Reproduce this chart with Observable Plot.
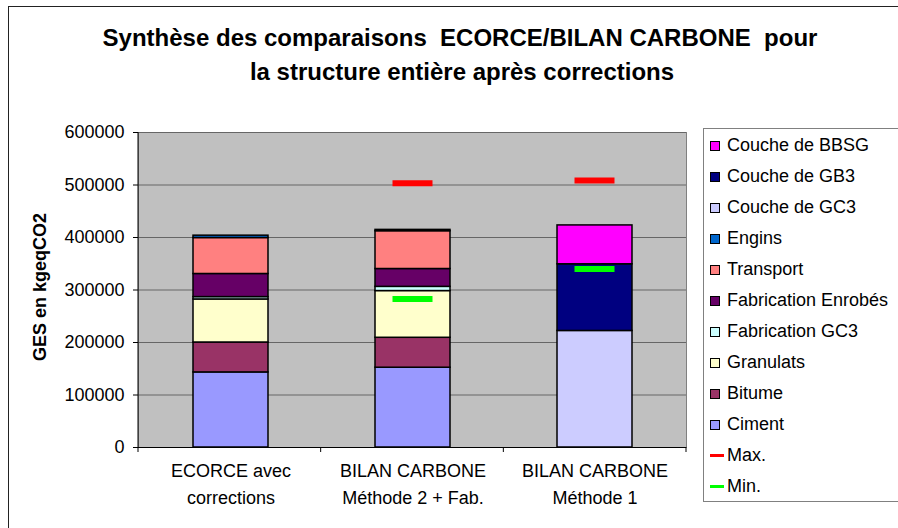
<!DOCTYPE html>
<html>
<head>
<meta charset="utf-8">
<script src="https://cdn.jsdelivr.net/npm/d3@7"></script>
<script src="https://cdn.jsdelivr.net/npm/@observablehq/plot@0.6"></script>
<style>
  html, body { margin: 0; padding: 0; background: #fff; }
  body { font-family: Arial, "Liberation Sans", sans-serif; }
  #wrap { position: relative; width: 898px; height: 528px; overflow: hidden; }
  #border { position: absolute; left: 8px; top: 6px; width: 1000px; height: 1000px; border: 1px solid #222; box-sizing: border-box; }
  #chart { position: absolute; left: 0; top: 0; }
  .title { position: absolute; font-weight: bold; font-size: 24px; white-space: pre; color: #000; line-height: 1; }
  #legend { position: absolute; left: 703px; top: 128px; width: 240px; height: 374px; border: 1px solid #808080; box-sizing: border-box; background: #fff; padding-top: 1px; }
  .item { height: 31px; line-height: 31px; font-size: 18px; white-space: nowrap; position: relative; padding-left: 23px; color: #000; }
  .sw { position: absolute; left: 6px; top: 11px; width: 10px; height: 10px; border: 1px solid #000; box-sizing: border-box; }
  .ln { position: absolute; left: 6px; top: 14px; width: 14px; height: 3px; }
</style>
</head>
<body>
<div id="wrap">
  <div id="border"></div>
  <div id="chart"></div>
  <div class="title" id="t1"></div>
  <div class="title" id="t2"></div>
  <div id="legend"></div>
</div>
<script>
const titleLines = ["Synthèse des comparaisons  ECORCE/BILAN CARBONE  pour", "la structure entière après corrections"];
const yLabel = "GES en kgeqCO2";
const categories = ["ECORCE avec\ncorrections", "BILAN CARBONE\nMéthode 2 + Fab.", "BILAN CARBONE\nMéthode 1"];
const seriesNames = ["Ciment", "Bitume", "Granulats", "Fabrication GC3", "Fabrication Enrobés", "Transport", "Engins", "Couche de GC3", "Couche de GB3", "Couche de BBSG"];
const seriesColors = ["#9999ff", "#993366", "#ffffcc", "#ccffff", "#660066", "#ff8080", "#0066cc", "#ccccff", "#000080", "#ff00ff"];
const ciment = [143000, 152000, 0];
const bitume = [57000, 57000, 0];
const granulats = [82000, 89000, 0];
const fabricationGC3 = [4500, 8000, 0];
const fabricationEnrobes = [44000, 34000, 0];
const transport = [68500, 72000, 0];
const engins = [4500, 2500, 0];
const coucheGC3 = [0, 0, 222000];
const coucheGB3 = [0, 0, 127000];
const coucheBBSG = [0, 0, 74000];
const maxValues = [null, 503500, 508500];
const minValues = [null, 283000, 340000];
const markerNames = ["Max.", "Min."];
const markerColors = ["#ff0000", "#00ff00"];
const yTicks = [0, 100000, 200000, 300000, 400000, 500000, 600000];
const legendOrder = ["Couche de BBSG", "Couche de GB3", "Couche de GC3", "Engins", "Transport", "Fabrication Enrobés", "Fabrication GC3", "Granulats", "Bitume", "Ciment"];

const seriesValues = [ciment, bitume, granulats, fabricationGC3, fabricationEnrobes, transport, engins, coucheGC3, coucheGB3, coucheBBSG];
const rows = [];
seriesNames.forEach((s, k) => {
  categories.forEach((c, i) => {
    const v = seriesValues[k][i];
    if (v > 0) rows.push({category: c, series: s, value: v});
  });
});
const maxRows = categories.map((c, i) => ({category: c, value: maxValues[i]})).filter(d => d.value != null);
const minRows = categories.map((c, i) => ({category: c, value: minValues[i]})).filter(d => d.value != null);

function decor(index, scales, values, dimensions) {
  const {width, height, marginLeft, marginRight, marginTop, marginBottom} = dimensions;
  const x0 = marginLeft, x1 = width - marginRight, yb = height - marginBottom;
  const g = d3.create("svg:g");
  g.append("line").attr("x1", x0).attr("x2", x0).attr("y1", marginTop).attr("y2", yb).attr("stroke", "#000");
  const n = categories.length;
  for (let i = 0; i <= n; i++) {
    const x = x0 + i * (x1 - x0) / n;
    g.append("line").attr("x1", x).attr("x2", x).attr("y1", yb).attr("y2", yb + 5).attr("stroke", "#000");
  }
  return g.node();
}

const plot = Plot.plot({
  width: 898,
  height: 528,
  marginLeft: 138,
  marginRight: 212,
  marginTop: 132,
  marginBottom: 81,
  style: {fontFamily: 'Arial, "Liberation Sans", sans-serif', fontSize: "18px", background: "transparent", color: "#000"},
  x: {domain: categories, paddingInner: 0.59, paddingOuter: 0.295, label: null},
  y: {domain: [0, 600000], label: null},
  color: {domain: seriesNames, range: seriesColors},
  marks: [
    Plot.frame({fill: "#c0c0c0", stroke: "#808080"}),
    Plot.gridY({ticks: yTicks, stroke: "#666", strokeOpacity: 1}),
    Plot.barY(rows, {x: "category", y: "value", fill: "series", stroke: "#000", strokeWidth: 1.5, order: seriesNames}),
    Plot.tickY(maxRows, {x: "category", y: "value", stroke: markerColors[0], strokeWidth: 6, insetLeft: 17.5, insetRight: 17.5}),
    Plot.tickY(minRows, {x: "category", y: "value", stroke: markerColors[1], strokeWidth: 6, insetLeft: 17.5, insetRight: 17.5}),
    decor,
    Plot.ruleY([0], {stroke: "#000"}),
    Plot.axisY({ticks: yTicks, tickFormat: d => String(d), tickSize: 5, tickPadding: 9, label: null}),
    Plot.axisX({tickSize: 0, tickPadding: 10, lineHeight: 1.5, label: null}),
    Plot.text([yLabel], {frameAnchor: "left", textAnchor: "middle", dx: -98, dy: -3, rotate: -90, fontWeight: "bold", fontSize: 18, text: d => d})
  ]
});
document.getElementById("chart").appendChild(plot);

// title
const t1 = document.getElementById("t1");
const t2 = document.getElementById("t2");
t1.textContent = titleLines[0];
t2.textContent = titleLines[1];
function placeTitle(el, cx, baseline) {
  const w = el.getBoundingClientRect().width;
  el.style.left = (cx - w / 2) + "px";
  el.style.top = (baseline - 20) + "px";
}
placeTitle(t1, 460, 46);
placeTitle(t2, 462, 80);

// legend
const legend = document.getElementById("legend");
legendOrder.forEach(name => {
  const div = document.createElement("div");
  div.className = "item";
  const sw = document.createElement("span");
  sw.className = "sw";
  sw.style.background = seriesColors[seriesNames.indexOf(name)];
  div.appendChild(sw);
  div.appendChild(document.createTextNode(name));
  legend.appendChild(div);
});
markerNames.forEach((name, k) => {
  const div = document.createElement("div");
  div.className = "item";
  const ln = document.createElement("span");
  ln.className = "ln";
  ln.style.background = markerColors[k];
  div.appendChild(ln);
  div.appendChild(document.createTextNode(name));
  legend.appendChild(div);
});
</script>
</body>
</html>
